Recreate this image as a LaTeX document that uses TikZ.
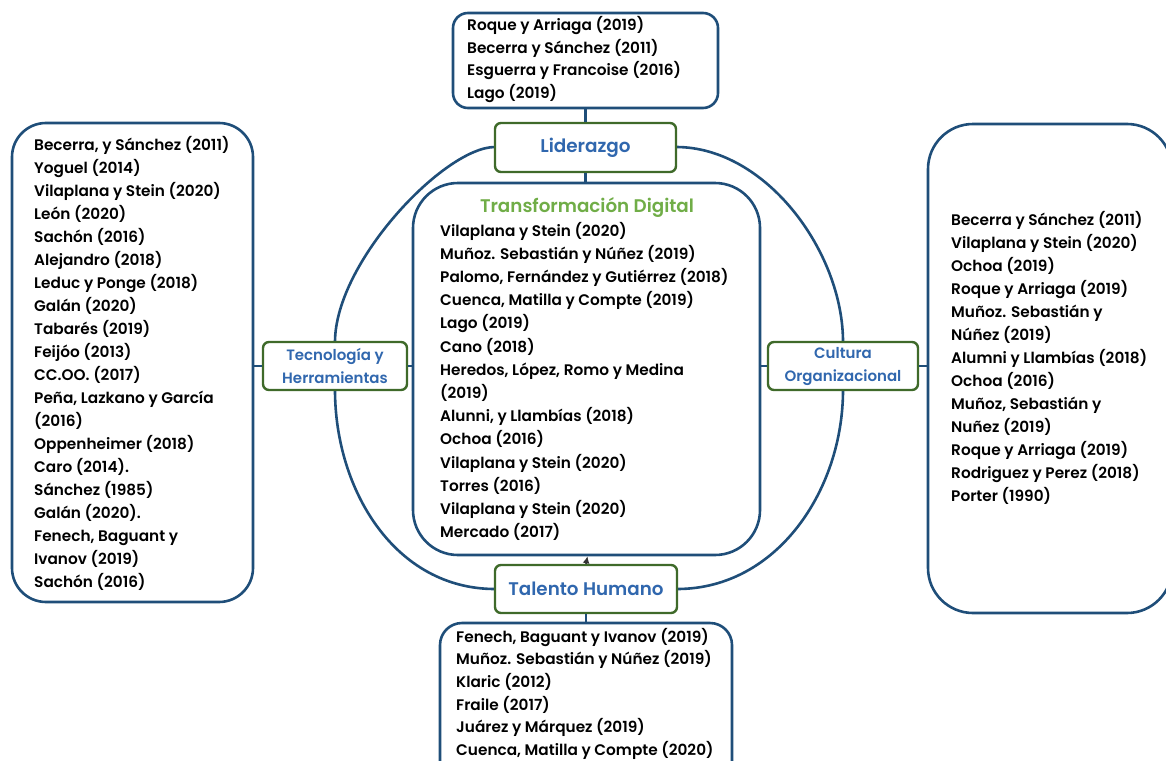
\documentclass[tikz,border=0pt]{standalone}
\usepackage{fontspec}
\setmainfont{Poppins}[UprightFont={* Medium}, BoldFont={* SemiBold}]
\usetikzlibrary{arrows.meta}
\definecolor{navy}{HTML}{1F4E79}
\definecolor{leafgreen}{HTML}{3F6A2A}
\definecolor{lblue}{HTML}{3067AE}
\definecolor{titlegreen}{HTML}{70AD47}
\begin{document}
\begin{tikzpicture}[x=1pt,y=-1pt,
  refbox/.style={draw=navy, line width=2.6pt, fill=white, rounded corners=#1, inner sep=0pt},
  % anchored at the baseline of the last line
  listtext/.style={align=left, inner sep=0pt, anchor=base west, text=black,
                   font=\fontsize{15.3}{#1}\selectfont\bfseries},
  topic/.style={draw=leafgreen, line width=2.4pt, fill=white, rounded corners=6pt,
                inner sep=0pt, align=center, text=lblue},
  link/.style={draw=navy, line width=2.6pt},
  ring/.style={draw=navy, line width=2.6pt}
]
\useasboundingbox (0,0) rectangle (1166,760);
\clip (0,0) rectangle (1166,760);

% reference boxes
\node[refbox=15pt, minimum width=265pt, minimum height=95pt] (topbox) at (585.5,60.5) {};
\node[refbox=34pt, minimum width=241pt, minimum height=479pt] (leftbox) at (132.5,362.5) {};
\node[refbox=45pt, minimum width=347pt, minimum height=372pt] (digbox) at (586.5,369) {};
\node[refbox=45pt, minimum width=244pt, minimum height=489pt] (rightbox) at (1050,368.5) {};
\node[refbox=22pt, minimum width=292pt, minimum height=170pt] (botbox) at (586,708) {};

% ring joining the four topics
\draw[ring] (495,147) .. controls +(-50,0) and +(0,-80) .. (335,342);
\draw[ring] (676,147) .. controls +(90,0) and +(0,-90) .. (843,342);
\draw[ring] (335,390) .. controls +(0,100) and +(-100,0) .. (495,589);
\draw[ring] (843,390) .. controls +(0,100) and +(100,0) .. (677,589);

% topics
\node[topic, minimum width=181pt, minimum height=49pt,
      font=\fontsize{18.4}{20}\selectfont\bfseries] (lid) at (585.5,147.5) {Liderazgo};
\node[topic, minimum width=182pt, minimum height=48pt,
      font=\fontsize{18.3}{20}\selectfont\bfseries] (tal) at (586,589) {Talento Humano};
\node[topic, minimum width=144pt, minimum height=48pt,
      font=\fontsize{15}{23}\selectfont\bfseries] (tec) at (335,366) {Tecnología y\\Herramientas};
\node[topic, minimum width=150pt, minimum height=48pt,
      font=\fontsize{15}{23}\selectfont\bfseries] (cul) at (843,366) {Cultura\\Organizacional};

% connectors
\draw[link] (topbox.south) -- (topbox.south |- lid.north);
\draw[link] (lid.south) -- (lid.south |- digbox.north);
\draw[link] (tec.west) -- (tec.west -| leftbox.east);
\draw[link] (tec.east) -- (tec.east -| digbox.west);
\draw[link] (cul.west) -- (cul.west -| digbox.east);
\draw[link] (cul.east) -- (cul.east -| rightbox.west);
\draw[link] (tal.south) -- (tal.south |- botbox.north);
\draw[line width=2pt, black!80, -{Latex[length=7pt,width=7pt]}] (tal.north) -- ([xshift=1.5pt]tal.north |- digbox.south);

% texts
\node[font=\fontsize{18.3}{20}\selectfont\bfseries, text=titlegreen, anchor=base, inner sep=0pt]
  (digtitle) at (587,212) {Transformación Digital};

\node[listtext=22.4] (toptext) at (467,98.2) {Roque y Arriaga (2019)\\Becerra y Sánchez (2011)\\Esguerra y Francoise (2016)\\Lago (2019)};

\node[listtext=23] (lefttext) at (34,587) {Becerra, y Sánchez (2011)\\Yoguel (2014)\\Vilaplana y Stein (2020)\\León (2020)\\Sachón (2016)\\Alejandro (2018)\\Leduc y Ponge (2018)\\Galán (2020)\\Tabarés (2019)\\Feijóo (2013)\\CC.OO. (2017)\\Peña, Lazkano y García\\(2016)\\Oppenheimer (2018)\\Caro (2014).\\Sánchez (1985)\\Galán (2020).\\Fenech, Baguant y\\Ivanov (2019)\\Sachón (2016)};

\node[listtext=23.2] (digtext) at (440,537.6) {Vilaplana y Stein (2020)\\Muñoz. Sebastián y Núñez (2019)\\Palomo, Fernández y Gutiérrez (2018)\\Cuenca, Matilla y Compte (2019)\\Lago (2019)\\Cano (2018)\\Heredos, López, Romo y Medina\\(2019)\\Alunni, y Llambías (2018)\\Ochoa (2016)\\Vilaplana y Stein (2020)\\Torres (2016)\\Vilaplana y Stein (2020)\\Mercado (2017)};

\node[listtext=23] (righttext) at (951,501) {Becerra y Sánchez (2011)\\Vilaplana y Stein (2020)\\Ochoa (2019)\\Roque y Arriaga (2019)\\Muñoz. Sebastián y\\Núñez (2019)\\Alumni y Llambías (2018)\\Ochoa (2016)\\Muñoz, Sebastián y\\Nuñez (2019)\\Roque y Arriaga (2019)\\Rodriguez y Perez (2018)\\Porter (1990)};

\node[listtext=22.7] (bottext) at (456,755.5) {Fenech, Baguant y Ivanov (2019)\\Muñoz. Sebastián y Núñez (2019)\\Klaric (2012)\\Fraile (2017)\\Juárez y Márquez (2019)\\Cuenca, Matilla y Compte (2020)};
\end{tikzpicture}
\end{document}
